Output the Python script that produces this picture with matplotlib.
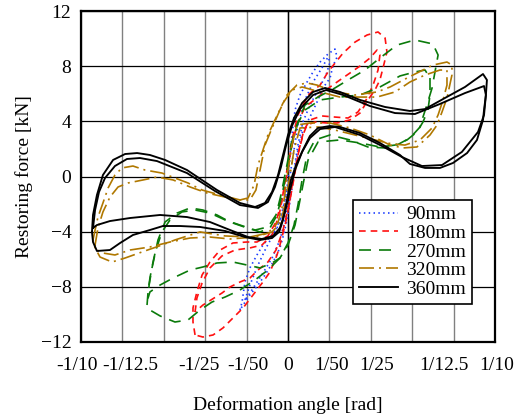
import matplotlib

matplotlib.use("Agg")
import matplotlib.pyplot as plt
from matplotlib.transforms import ScaledTranslation

plt.rcParams["font.family"] = ["Liberation Serif", "DejaVu Serif"]
plt.rcParams["font.size"] = 14

# deformation angle [rad] / restoring force [kN]
x90_a = [-0.0232, -0.0222, -0.0208, -0.0184, -0.0150, -0.0121, -0.0087, -0.0053, -0.0029, -0.0010,
         0.0, 0.0010, 0.0019, 0.0034, 0.0058, 0.0092, 0.0121, 0.0155, 0.0193, 0.0227,
         0.0237, 0.0217, 0.0203, 0.0169, 0.0145, 0.0106, 0.0072, 0.0048, 0.0029, 0.0014,
         0.0, -0.0019, -0.0039, -0.0072, -0.0111, -0.0145, -0.0184, -0.0217, -0.0232]
y90_a = [-9.68, -9.10, -7.65, -6.63, -5.69, -4.97, -4.39, -3.73, -2.79, -1.34,
         -0.25, 1.56, 3.01, 4.82, 5.91, 6.85, 7.58, 8.30, 8.88, 9.24,
         8.66, 8.01, 7.14, 6.42, 5.55, 4.31, 3.37, 1.92, 0.11, -1.34,
         -2.79, -4.10, -5.18, -6.20, -7.14, -7.87, -8.59, -9.32, -9.68]
x90_b = [-0.0208, -0.0184, -0.0145, -0.0106, -0.0072, -0.0039, -0.0014, 0.0010, 0.0029, 0.0048,
         0.0082, 0.0121, 0.0164, 0.0193, 0.0203, 0.0184, 0.0145, 0.0106, 0.0072, 0.0048,
         0.0029, 0.0010, -0.0014, -0.0039, -0.0077, -0.0121, -0.0159, -0.0193, -0.0208]
y90_b = [-8.95, -7.87, -6.42, -5.18, -4.24, -3.15, -1.70, 0.11, 1.92, 3.73,
         5.55, 6.85, 7.87, 8.66, 8.30, 7.36, 6.27, 5.18, 3.95, 2.28,
         0.47, -1.34, -3.15, -4.60, -5.91, -7.00, -7.87, -8.66, -8.95]

x180_a = [-0.0449, -0.0459, -0.0459, -0.0440, -0.0415, -0.0377, -0.0328, -0.0266, -0.0198, -0.0150,
          -0.0097, -0.0058, -0.0029, -0.0005, 0.0019, 0.0048, 0.0097, 0.0155, 0.0193, 0.0266,
          0.0324, 0.0382, 0.0435, 0.0469, 0.0478, 0.0459, 0.0444, 0.0420, 0.0386, 0.0348,
          0.0299, 0.0237, 0.0188, 0.0130, 0.0092, 0.0072, 0.0048, 0.0024, 0.0005, -0.0014,
          -0.0039, -0.0053, -0.0087, -0.0121, -0.0169, -0.0217, -0.0266, -0.0314, -0.0362, -0.0411,
          -0.0449]
y180_a = [-11.49, -10.55, -9.53, -8.37, -7.14, -6.20, -5.33, -4.82, -4.75, -4.75,
          -4.31, -3.30, -1.70, 0.47, 2.65, 4.46, 5.91, 6.63, 7.58, 8.95,
          9.75, 10.26, 10.48, 10.04, 9.03, 7.87, 7.00, 6.27, 5.55, 4.60,
          4.10, 3.88, 3.88, 3.95, 3.73, 3.01, 1.56, -0.25, -2.07, -3.52,
          -4.97, -5.69, -6.92, -7.65, -8.59, -9.53, -10.26, -10.98, -11.49, -11.64,
          -11.49]
x180_b = [-0.0449, -0.0440, -0.0415, -0.0377, -0.0319, -0.0256, -0.0184, -0.0126, -0.0077, -0.0043,
          -0.0014, 0.0014, 0.0043, 0.0082, 0.0145, 0.0203, 0.0251, 0.0299, 0.0348, 0.0396,
          0.0430, 0.0444, 0.0435, 0.0411, 0.0377, 0.0338, 0.0290, 0.0227, 0.0164, 0.0106,
          0.0077, 0.0053, 0.0029, 0.0005, -0.0024, -0.0058, -0.0097, -0.0145, -0.0184, -0.0232,
          -0.0280, -0.0319, -0.0411, -0.0449]
y180_b = [-9.82, -8.81, -7.72, -6.63, -5.76, -5.33, -5.18, -4.97, -4.24, -2.79,
          -0.62, 1.92, 3.73, 5.04, 5.76, 6.49, 7.00, 7.50, 8.01, 8.59,
          9.17, 8.81, 7.72, 6.63, 5.55, 4.68, 4.24, 4.31, 4.39, 4.10,
          3.37, 1.92, -0.11, -2.07, -3.88, -5.33, -6.20, -6.78, -7.36, -7.65,
          -8.01, -8.45, -9.32, -9.82]

x270_a = [-0.0681, -0.0676, -0.0667, -0.0652, -0.0628, -0.0594, -0.0536, -0.0473, -0.0411, -0.0343,
          -0.0280, -0.0198, -0.0135, -0.0087, -0.0053, -0.0029, -0.0005, 0.0019, 0.0048, 0.0082,
          0.0145, 0.0227, 0.0290, 0.0372, 0.0444, 0.0526, 0.0613, 0.0700, 0.0725, 0.0710,
          0.0696, 0.0671, 0.0652, 0.0638, 0.0589, 0.0526, 0.0469, 0.0386, 0.0299, 0.0203,
          0.0130, 0.0092, 0.0068, 0.0048, 0.0029, 0.0, -0.0039, -0.0097, -0.0159, -0.0232,
          -0.0304, -0.0367, -0.0425, -0.0483, -0.0546, -0.0618, -0.0667, -0.0681]
y270_a = [-9.32, -8.37, -7.36, -6.20, -4.60, -3.30, -2.65, -2.28, -2.43, -2.79,
          -3.30, -3.73, -4.02, -3.73, -2.79, -1.34, 0.47, 2.28, 3.95, 5.18,
          5.76, 6.42, 7.00, 7.72, 8.59, 9.53, 9.90, 9.61, 8.81, 7.58,
          6.42, 5.18, 4.31, 3.59, 2.79, 2.28, 2.07, 2.14, 2.65, 3.01,
          2.65, 1.56, -0.25, -2.07, -3.52, -4.82, -5.91, -6.78, -7.50, -8.23,
          -8.74, -9.10, -9.68, -10.40, -10.55, -10.11, -9.68, -9.32]
x270_b = [0.0686, 0.0686, 0.0676, 0.0652, 0.0623, 0.0575, 0.0517, 0.0444, 0.0348, 0.0251,
          0.0145, 0.0097, 0.0077, 0.0058, 0.0034, 0.0, -0.0039, -0.0077, -0.0135, -0.0198,
          -0.0266, -0.0343, -0.0411, -0.0473, -0.0555, -0.0618, -0.0667, -0.0676, -0.0671, -0.0657,
          -0.0638, -0.0609, -0.0570, -0.0512, -0.0449, -0.0377, -0.0304, -0.0232, -0.0159, -0.0097,
          -0.0058, -0.0034, -0.0010, 0.0014, 0.0043, 0.0082, 0.0155, 0.0251, 0.0348, 0.0444,
          0.0541, 0.0613, 0.0662, 0.0686]
y270_b = [7.14, 5.91, 4.82, 3.95, 3.23, 2.65, 2.28, 2.14, 2.43, 2.65,
          2.50, 1.20, -0.25, -1.70, -3.52, -4.97, -5.91, -6.27, -6.63, -6.42,
          -6.20, -6.27, -6.56, -6.78, -7.36, -7.87, -8.37, -8.81, -7.87, -6.63,
          -5.33, -4.02, -3.15, -2.57, -2.43, -2.65, -3.15, -3.52, -3.88, -3.66,
          -2.79, -1.34, 0.47, 2.28, 3.73, 4.82, 5.55, 5.76, 5.91, 6.49,
          7.29, 7.58, 7.72, 7.14]

x320_a = [-0.0942, -0.0932, -0.0918, -0.0894, -0.0869, -0.0836, -0.0802, -0.0749, -0.0691, -0.0609,
          -0.0546, -0.0483, -0.0415, -0.0328, -0.0232, -0.0184, -0.0155, -0.0135, -0.0111, -0.0077,
          -0.0039, -0.0005, 0.0043, 0.0092, 0.0140, 0.0227, 0.0324, 0.0430, 0.0493, 0.0575,
          0.0652, 0.0700, 0.0768, 0.0792, 0.0792, 0.0768, 0.0744, 0.0720, 0.0686, 0.0623,
          0.0555, 0.0493, 0.0396, 0.0299, 0.0203, 0.0106, 0.0043, 0.0019, 0.0, -0.0019,
          -0.0048, -0.0097, -0.0184, -0.0304, -0.0425, -0.0546, -0.0609, -0.0705, -0.0787, -0.0850,
          -0.0908, -0.0932, -0.0942]
y320_a = [-4.60, -3.88, -2.94, -1.92, -0.83, 0.11, 0.62, 0.76, 0.47, 0.25,
          -0.11, -0.47, -0.98, -1.34, -1.70, -1.70, -0.98, 0.47, 2.28, 3.52,
          4.82, 5.91, 6.63, 6.78, 6.63, 6.13, 5.91, 6.13, 6.49, 7.14,
          7.72, 8.08, 8.30, 8.08, 7.36, 5.69, 4.68, 3.73, 3.01, 2.14,
          2.07, 2.28, 3.01, 3.52, 3.88, 3.88, 3.73, 2.28, 0.47, -1.70,
          -3.30, -4.10, -4.39, -4.31, -4.02, -4.60, -4.97, -5.47, -5.91, -6.20,
          -5.84, -5.18, -4.60]
x320_b = [-0.0932, -0.0918, -0.0894, -0.0860, -0.0821, -0.0773, -0.0700, -0.0633, -0.0555, -0.0473,
          -0.0391, -0.0304, -0.0232, -0.0193, -0.0164, -0.0145, -0.0121, -0.0097, -0.0063, -0.0024,
          0.0019, 0.0068, 0.0155, 0.0251, 0.0348, 0.0430, 0.0517, 0.0589, 0.0662, 0.0734,
          0.0768, 0.0768, 0.0749, 0.0725, 0.0696, 0.0638, 0.0565, 0.0502, 0.0420, 0.0324,
          0.0227, 0.0145, 0.0058, 0.0029, 0.0010, -0.0010, -0.0034, -0.0077, -0.0159, -0.0280,
          -0.0377, -0.0473, -0.0570, -0.0667, -0.0763, -0.0836, -0.0894, -0.0923, -0.0932]
y320_b = [-4.97, -3.73, -2.57, -1.49, -0.76, -0.47, -0.25, -0.04, -0.25, -0.76,
          -1.20, -1.49, -1.70, -1.56, -0.62, 0.83, 1.92, 3.01, 4.10, 5.33,
          6.27, 6.49, 6.13, 5.76, 5.76, 5.76, 6.13, 6.85, 7.36, 7.72,
          7.72, 6.63, 5.55, 4.46, 3.52, 2.65, 2.28, 2.36, 2.65, 3.01,
          3.37, 3.59, 3.52, 1.92, 0.11, -1.70, -3.30, -4.02, -4.39, -4.53,
          -4.39, -4.46, -4.75, -5.11, -5.33, -5.69, -5.55, -5.33, -4.97]

x360_a = [-0.0947, -0.0942, -0.0923, -0.0894, -0.0845, -0.0787, -0.0729, -0.0667, -0.0594, -0.0488,
          -0.0343, -0.0232, -0.0159, -0.0111, -0.0077, -0.0048, -0.0024, 0.0, 0.0029, 0.0068,
          0.0121, 0.0179, 0.0251, 0.0348, 0.0469, 0.0589, 0.0662, 0.0758, 0.0855, 0.0942,
          0.0961, 0.0956, 0.0947, 0.0942, 0.0913, 0.0865, 0.0797, 0.0734, 0.0662, 0.0589,
          0.0541, 0.0444, 0.0348, 0.0251, 0.0203, 0.0145, 0.0106, 0.0072, 0.0039, 0.0014,
          -0.0005, -0.0024, -0.0043, -0.0077, -0.0135, -0.0208, -0.0304, -0.0425, -0.0522, -0.0604,
          -0.0667, -0.0749, -0.0811, -0.0860, -0.0923, -0.0942, -0.0947]
y360_a = [-4.02, -2.79, -1.34, 0.11, 1.20, 1.63, 1.70, 1.56, 1.20, 0.47,
          -0.98, -1.92, -2.21, -1.92, -1.12, 0.11, 1.56, 3.01, 4.24, 5.33,
          6.13, 6.42, 6.13, 5.55, 5.04, 4.75, 4.89, 5.69, 6.49, 7.43,
          7.00, 5.91, 4.82, 4.10, 2.65, 1.70, 0.98, 0.62, 0.62, 0.91,
          1.56, 2.43, 3.15, 3.59, 3.66, 3.52, 2.94, 1.92, 0.83, -0.25,
          -1.70, -3.15, -4.02, -4.46, -4.60, -4.39, -3.95, -3.66, -3.59, -3.59,
          -3.88, -4.24, -4.82, -5.33, -5.40, -4.75, -4.02]
x360_b = [-0.0942, -0.0932, -0.0913, -0.0884, -0.0836, -0.0778, -0.0715, -0.0633, -0.0488, -0.0353,
          -0.0232, -0.0145, -0.0097, -0.0063, -0.0034, -0.0010, 0.0019, 0.0058, 0.0121, 0.0184,
          0.0266, 0.0396, 0.0517, 0.0613, 0.0734, 0.0855, 0.0947, 0.0956, 0.0947, 0.0918,
          0.0840, 0.0744, 0.0647, 0.0551, 0.0454, 0.0348, 0.0227, 0.0155, 0.0106, 0.0068,
          0.0034, 0.0010, -0.0014, -0.0039, -0.0072, -0.0126, -0.0193, -0.0280, -0.0377, -0.0488,
          -0.0618, -0.0763, -0.0860, -0.0923, -0.0942]
y360_b = [-3.73, -2.43, -1.12, -0.11, 0.76, 1.27, 1.34, 1.12, 0.25, -1.05,
          -2.07, -2.28, -1.85, -0.76, 0.69, 2.21, 3.66, 4.89, 5.91, 6.27,
          5.91, 5.11, 4.60, 4.53, 5.26, 6.05, 6.56, 5.91, 4.46, 3.23,
          1.78, 0.83, 0.76, 1.41, 2.21, 3.01, 3.59, 3.44, 2.79, 1.78,
          0.47, -0.98, -2.57, -3.73, -4.31, -4.53, -4.39, -3.88, -3.30, -2.94,
          -2.79, -3.01, -3.23, -3.52, -3.73]

series_labels = ["90mm", "180mm", "270mm", "320mm", "360mm"]
series_loops = [
    [(x90_a, y90_a), (x90_b, y90_b)],
    [(x180_a, y180_a), (x180_b, y180_b)],
    [(x270_a, y270_a), (x270_b, y270_b)],
    [(x320_a, y320_a), (x320_b, y320_b)],
    [(x360_a, y360_a), (x360_b, y360_b)],
]
x_ticks = [-0.1, -0.08, -0.06, -0.04, -0.02, 0.0, 0.02, 0.04, 0.06, 0.08, 0.1]
x_tick_labels = ["-1/10", "-1/12.5", "", "-1/25", "-1/50", "0", "1/50", "1/25", "", "1/12.5", "1/10"]
y_ticks = [-12, -8, -4, 0, 4, 8, 12]

styles = [
    dict(color="#1a3cff", lw=1.2, dashes=(0.9, 2.0)),
    dict(color="#ff1010", lw=1.2, dashes=(4.0, 3.0)),
    dict(color="#0a7a0a", lw=1.2, dashes=(7.2, 4.8)),
    dict(color="#b07800", lw=1.2, dashes=(9.0, 3.0, 1.2, 3.0)),
    dict(color="black", lw=1.35),
]

figure = plt.figure(figsize=(5.18, 4.16), dpi=100)
axis = figure.add_axes([81 / 518, 1 - 342 / 416, 414 / 518, 331 / 416])

for label, loops, style in zip(series_labels, series_loops, styles):
    for index, (xs, ys) in enumerate(loops):
        axis.plot(xs, ys, label=label if index == 0 else None, zorder=3, **style)

axis.set_xlim(-0.1, 0.1)
axis.set_ylim(-12, 12)
axis.set_xticks(x_ticks, x_tick_labels)
axis.set_yticks(y_ticks)
axis.tick_params(axis="both", length=0)
axis.tick_params(axis="x", pad=11)
axis.tick_params(axis="y", pad=7)
axis.xaxis.grid(True, color="#808080", lw=1.0)
axis.yaxis.grid(True, color="black", lw=0.9)
axis.axvline(0, color="black", lw=1.0, zorder=1.5)
axis.set_axisbelow(True)
for spine in axis.spines.values():
    spine.set_linewidth(1.6)

# the reference labels sit a little off their grid lines
label_shift = [-4, 8, 0, -6, 1, 0, 2, 6, 0, -10, 2]
for text, dx in zip(axis.get_xticklabels(), label_shift):
    text.set_transform(text.get_transform() + ScaledTranslation(dx / 100, 0, figure.dpi_scale_trans))

axis.set_xlabel("Deformation angle [rad]")
axis.set_ylabel("Restoring force [kN]")
axis.xaxis.set_label_coords(0.5, -0.163)
axis.yaxis.set_label_coords(-0.116, 0.5)

legend = axis.legend(
    loc="upper left",
    bbox_to_anchor=(0.657, 0.429),
    borderaxespad=0,
    frameon=True,
    fancybox=False,
    framealpha=1,
    edgecolor="black",
    handlelength=2.0,
    handletextpad=0.45,
    labelspacing=0.05,
    borderpad=0.3,
)
legend.get_frame().set_linewidth(1.2)

figure.savefig("out.png", dpi=100)
